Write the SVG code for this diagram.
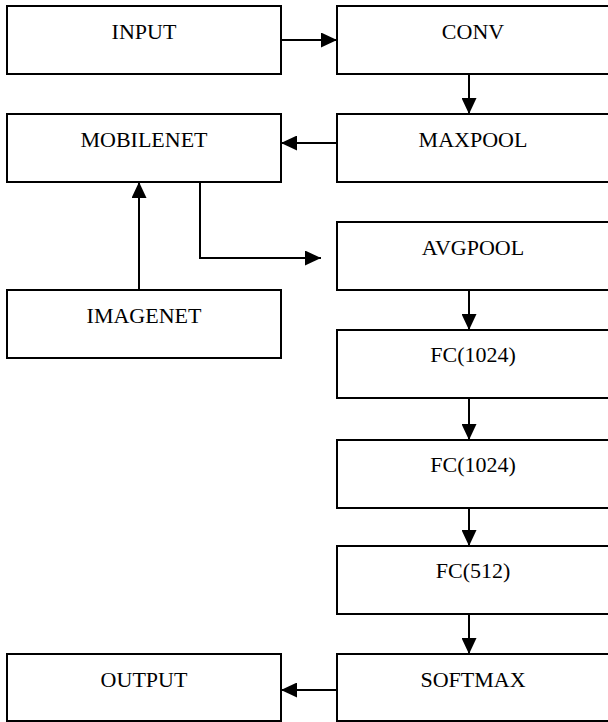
<svg xmlns="http://www.w3.org/2000/svg" width="608" height="722" viewBox="0 0 608 722">
<style>
.box{fill:#fff;stroke:#000;stroke-width:2}
.lbl{font-family:"Liberation Serif","Times New Roman",serif;font-size:22px;fill:#000;text-anchor:middle}
.con{fill:none;stroke:#000;stroke-width:2}
</style>
<defs>
<marker id="ah" markerUnits="userSpaceOnUse" markerWidth="16" markerHeight="15" refX="16" refY="7.5" orient="auto" viewBox="0 0 16 15">
<path d="M0,0 L16,7.5 L0,15 z" fill="#000"/>
</marker>
</defs>
<rect width="608" height="722" fill="#fff"/>
<g id="input"><rect class="box" x="7" y="6" width="274" height="68"/><text class="lbl" x="144" y="39">INPUT</text></g>
<g id="conv"><rect class="box" x="337" y="6" width="274" height="68"/><text class="lbl" x="473" y="39">CONV</text></g>
<g id="mobilenet"><rect class="box" x="7" y="114" width="274" height="68"/><text class="lbl" x="144" y="147">MOBILENET</text></g>
<g id="maxpool"><rect class="box" x="337" y="114" width="274" height="68"/><text class="lbl" x="473" y="147">MAXPOOL</text></g>
<g id="avgpool"><rect class="box" x="337" y="222" width="274" height="68"/><text class="lbl" x="473" y="255">AVGPOOL</text></g>
<g id="imagenet"><rect class="box" x="7" y="290" width="274" height="68"/><text class="lbl" x="144" y="323">IMAGENET</text></g>
<g id="fc1"><rect class="box" x="337" y="330" width="274" height="68"/><text class="lbl" x="473" y="362">FC(1024)</text></g>
<g id="fc2"><rect class="box" x="337" y="440" width="274" height="68"/><text class="lbl" x="473" y="472">FC(1024)</text></g>
<g id="fc3"><rect class="box" x="337" y="546" width="274" height="68"/><text class="lbl" x="473" y="578">FC(512)</text></g>
<g id="softmax"><rect class="box" x="337" y="654" width="274" height="67"/><text class="lbl" x="473" y="687">SOFTMAX</text></g>
<g id="output"><rect class="box" x="7" y="654" width="274" height="67"/><text class="lbl" x="144" y="687">OUTPUT</text></g>
<g id="connectors">
<line class="con" x1="281" y1="40" x2="337" y2="40" marker-end="url(#ah)"/>
<line class="con" x1="469" y1="74" x2="469" y2="114" marker-end="url(#ah)"/>
<line class="con" x1="337" y1="143" x2="281" y2="143" marker-end="url(#ah)"/>
<line class="con" x1="139" y1="290" x2="139" y2="182" marker-end="url(#ah)"/>
<polyline class="con" points="200,182 200,258 321,258" marker-end="url(#ah)"/>
<line class="con" x1="469" y1="290" x2="469" y2="330" marker-end="url(#ah)"/>
<line class="con" x1="469" y1="398" x2="469" y2="440" marker-end="url(#ah)"/>
<line class="con" x1="469" y1="508" x2="469" y2="546" marker-end="url(#ah)"/>
<line class="con" x1="469" y1="614" x2="469" y2="654" marker-end="url(#ah)"/>
<line class="con" x1="337" y1="690" x2="281" y2="690" marker-end="url(#ah)"/>
</g>
</svg>
